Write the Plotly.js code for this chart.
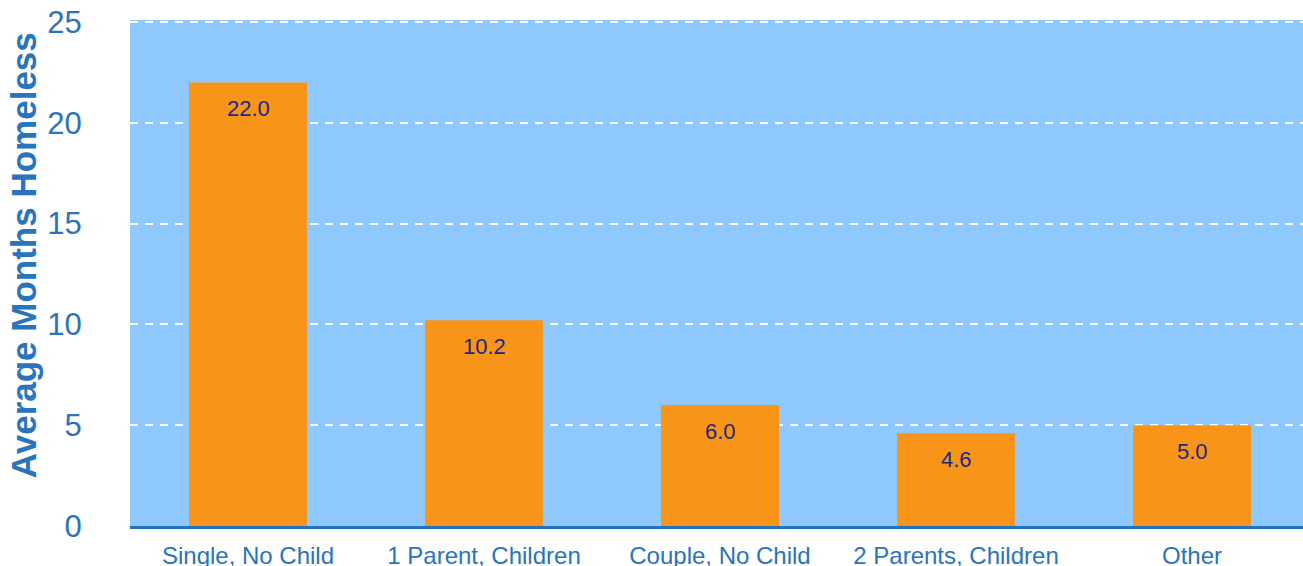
<!DOCTYPE html>
<html>
<head>
<meta charset="utf-8">
<script src="https://cdn.plot.ly/plotly-3.0.1.min.js"></script>
<style>
html,body{margin:0;padding:0;overflow:hidden;background:#fff;}
#chart{width:1320px;height:566px;}
</style>
</head>
<body>
<div id="chart"></div>
<script>
const categories = ["Single, No Child", "1 Parent, Children", "Couple, No Child", "2 Parents, Children", "Other"];
const months = [22.0, 10.2, 6.0, 4.6, 5.0];
const yTicks = [0, 5, 10, 15, 20, 25];
const yTitle = "Average Months Homeless";

const blue = "#2a74bb";
const trace = {
  type: "bar",
  x: categories,
  y: months,
  marker: {color: "#f89418"},
  hoverinfo: "skip"
};

const annotations = categories.map((c, i) => ({
  x: c, y: months[i], xref: "x", yref: "y",
  text: months[i].toFixed(1),
  showarrow: false, yanchor: "middle", yshift: -26,
  font: {family: "Liberation Sans, Arial, sans-serif", size: 22, color: "#1b2a86"}
}));
annotations.push({
  text: "<b>" + yTitle + "</b>",
  xref: "paper", yref: "paper",
  x: -0.0907, y: 0.535, xanchor: "center", yanchor: "middle",
  textangle: -90, showarrow: false,
  font: {family: "Liberation Sans, Arial, sans-serif", size: 35, color: blue}
});

const layout = {
  width: 1320, height: 566,
  margin: {l: 130, r: 10, t: 20, b: 40},
  paper_bgcolor: "#ffffff",
  plot_bgcolor: "#8fc8fc",
  bargap: 0.5,
  showlegend: false,
  font: {family: "Liberation Sans, Arial, sans-serif", color: blue},
  xaxis: {
    type: "category",
    showgrid: false, zeroline: false,
    showline: true, linecolor: "#1f72bd", linewidth: 3,
    ticks: "outside", ticklen: 6, tickcolor: "rgba(0,0,0,0)",
    tickfont: {size: 24, color: blue},
    automargin: false
  },
  yaxis: {
    range: [0, 25.1],
    tickvals: yTicks,
    ticktext: yTicks.map(String),
    showgrid: true, gridcolor: "#ffffff", griddash: "8px,7px", gridwidth: 2,
    zeroline: false, showline: false,
    ticks: "outside", ticklen: 41, tickcolor: "rgba(0,0,0,0)",
    tickfont: {size: 31, color: blue},
    automargin: false
  },
  annotations: annotations
};

Plotly.newPlot("chart", [trace], layout, {displayModeBar: false, staticPlot: true});
</script>
</body>
</html>
